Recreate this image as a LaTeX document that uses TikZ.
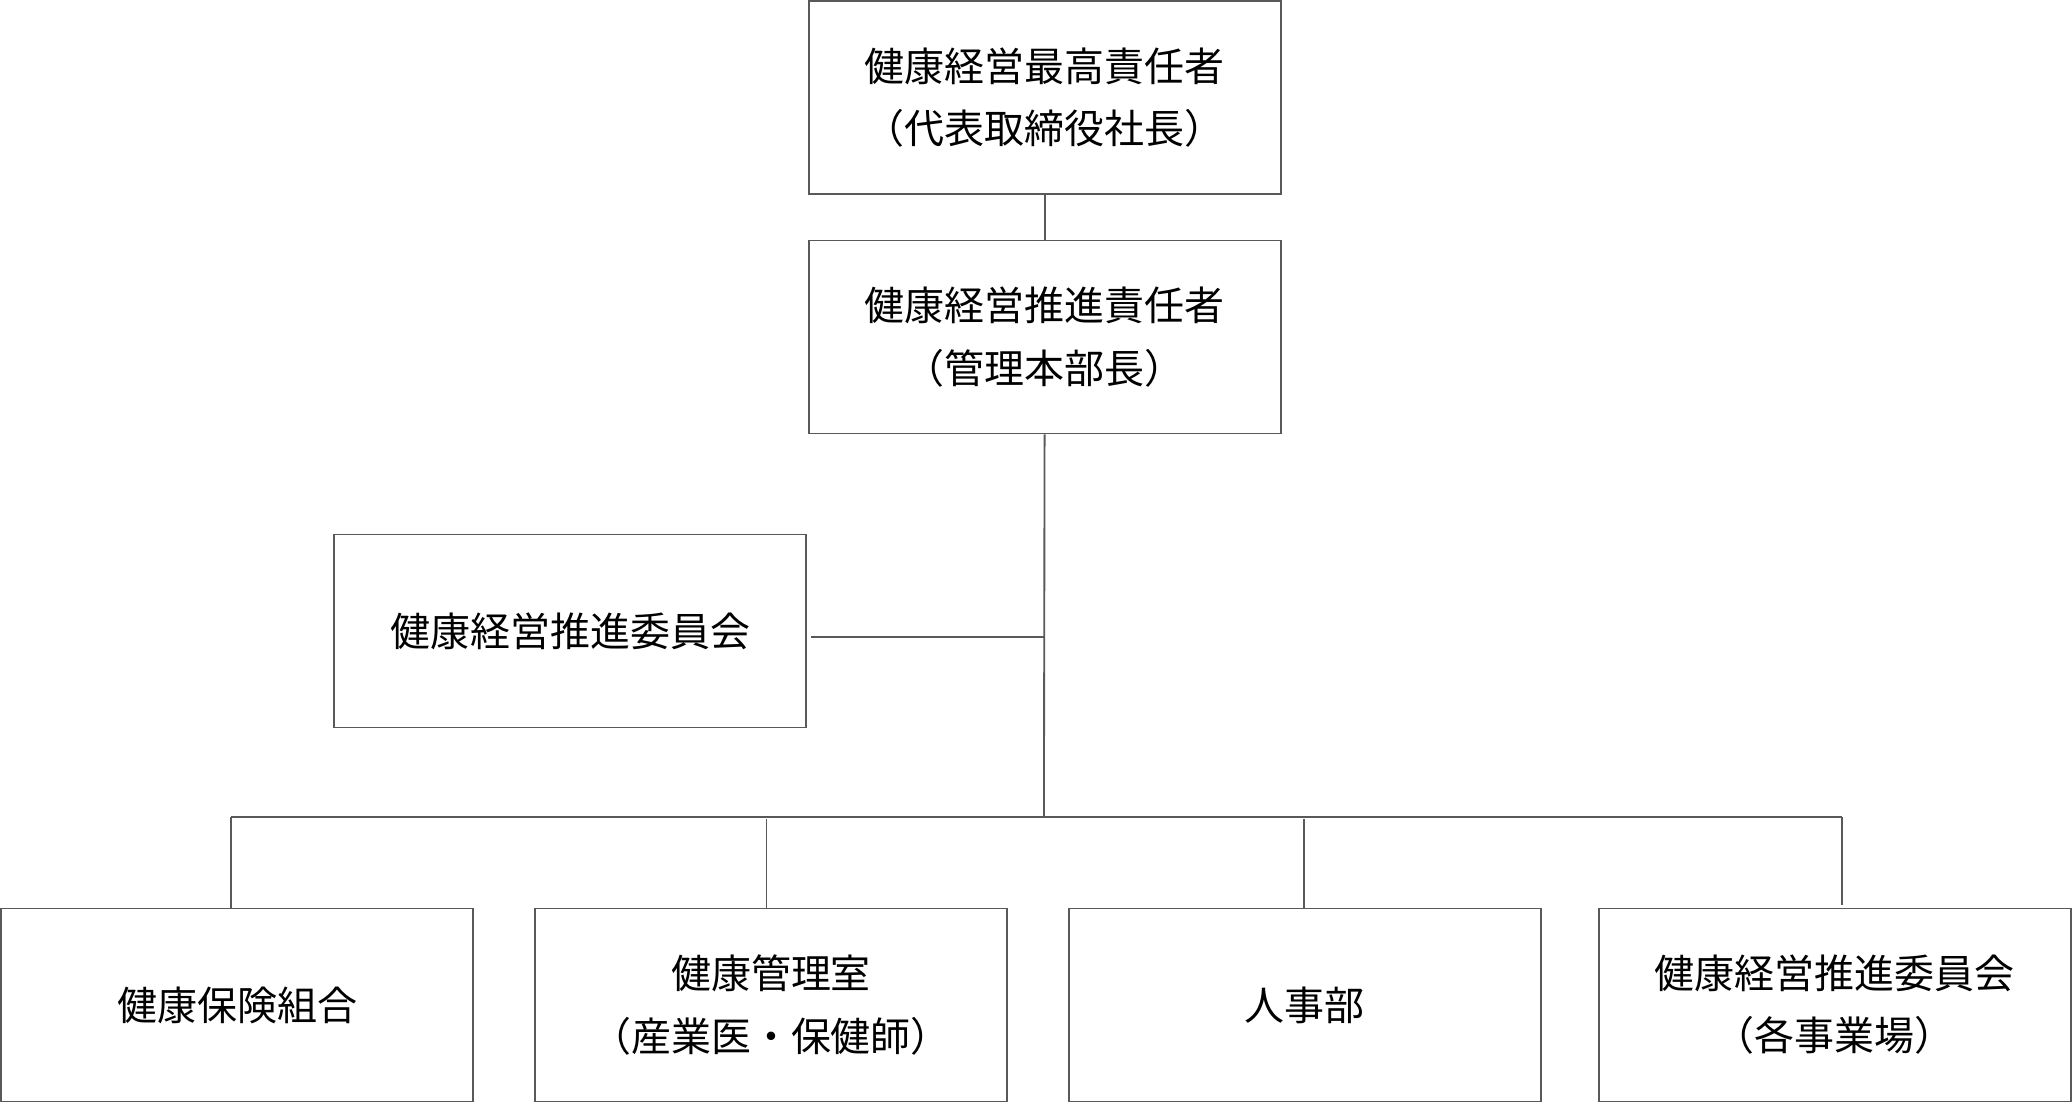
\documentclass[tikz,border=0pt]{standalone}
\usepackage{fontspec}
\newfontfamily\cjk{Noto Sans CJK JP}
\begin{document}
\begin{tikzpicture}[x=0.01cm,y=-0.01cm,
  box/.style={draw=black!65,line width=0.4pt,minimum width=3.57cm,minimum height=1.46cm,align=center,inner sep=0pt,font=\cjk\fontsize{8.6}{13.4}\selectfont},
  ln/.style={draw=black!65,line width=0.4pt}]
\useasboundingbox (0,0) rectangle (1568,836);
\node[box] (top) at (790.5,74) {健康経営最高責任者\\（代表取締役社長）};
\node[box] (sec) at (790.5,255) {健康経営推進責任者\\（管理本部長）};
\node[box] (com) at (431.5,477.5) {健康経営推進委員会};
\node[box] (b1) at (179.5,760.5) {健康保険組合};
\node[box] (b2) at (583.5,760.5) {健康管理室\\（産業医・保健師）};
\node[box] (b3) at (987.5,760.5) {人事部};
\node[box] (b4) at (1388.5,760.5) {健康経営推進委員会\\（各事業場）};
\coordinate (j) at (790,618);
\coordinate (m) at (790,482);
\draw[ln] (top.south) -- (sec.north);
\draw[ln] (sec.south) -- (j);
\draw[ln] (614,482) -- (m);
\draw[ln] (175,618) -- (1394,618);
\draw[ln] (175,618) -- (175,687);
\draw[ln] (580,620) -- (580,687);
\draw[ln] (987,620) -- (987,687);
\draw[ln] (1394,618) -- (1394,685);
\end{tikzpicture}
\end{document}
